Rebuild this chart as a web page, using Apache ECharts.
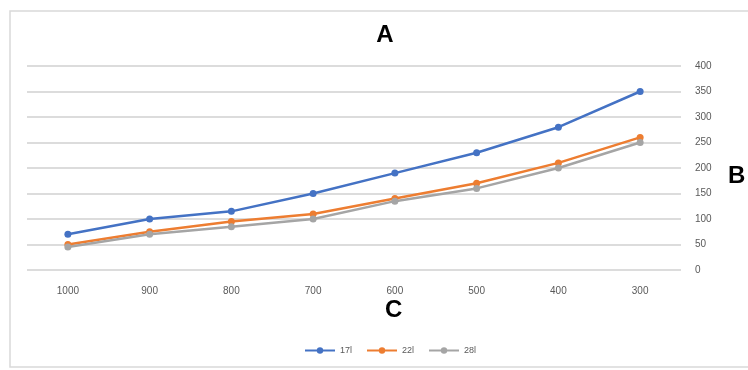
<!DOCTYPE html>
<html><head><meta charset="utf-8">
<script src="https://cdn.jsdelivr.net/npm/echarts@6/dist/echarts.min.js"></script>
<style>html,body{margin:0;padding:0;background:#fff}#c{width:748px;height:370px}</style>
</head><body><div id="c"></div>
<script>
const categories = ['1000','900','800','700','600','500','400','300'];
const s17 = [70,100,115,150,190,230,280,350];
const s22 = [50,75,95,110,140,170,210,260];
const s28 = [45,70,85,100,135,160,200,250];
const seriesNames = ['17l','22l','28l'];
const colors = ['#4472C4','#ED7D31','#A5A5A5'];

const chart = echarts.init(document.getElementById('c'), null, {renderer:'canvas'});
const mk = (name, data, color) => ({
  name, type:'line', data, symbol:'circle', symbolSize:7,
  lineStyle:{width:2.5,color}, itemStyle:{color}, smooth:false
});
chart.setOption({
  animation:false,
  title:{text:'A', left:380, top:18, textAlign:'center',
    textStyle:{fontSize:24, fontWeight:'bold', color:'#000', fontFamily:'Liberation Sans'}},
  graphic:[
    {type:'rect', shape:{x:10,y:11,width:745,height:356}, style:{fill:null, stroke:'#d9d9d9', lineWidth:1.5}, silent:true},
    {type:'text', left:728, top:164, style:{text:'B', fontSize:24, fontWeight:'bold', fill:'#000', fontFamily:'Liberation Sans'}},
    {type:'text', left:385, top:298, style:{text:'C', fontSize:24, fontWeight:'bold', fill:'#000', fontFamily:'Liberation Sans'}}
  ],
  legend:{bottom:10, left:299, itemWidth:30, itemHeight:8, itemGap:14,
    textStyle:{fontSize:9, color:'#595959'}, data:seriesNames},
  grid:{left:27, right:67, top:66, bottom:100, containLabel:false},
  xAxis:{type:'category', data:categories, boundaryGap:true,
    axisLine:{show:false}, axisTick:{show:false},
    axisLabel:{color:'#595959', fontSize:10, margin:16}},
  yAxis:{type:'value', position:'right', min:0, max:400, interval:50,
    axisLine:{show:false}, axisTick:{show:false},
    axisLabel:{color:'#595959', fontSize:10, margin:14},
    splitLine:{lineStyle:{color:'#dcdcdc', width:2}}},
  series:[mk(seriesNames[0], s17, colors[0]), mk(seriesNames[1], s22, colors[1]), mk(seriesNames[2], s28, colors[2])]
});
</script></body></html>
